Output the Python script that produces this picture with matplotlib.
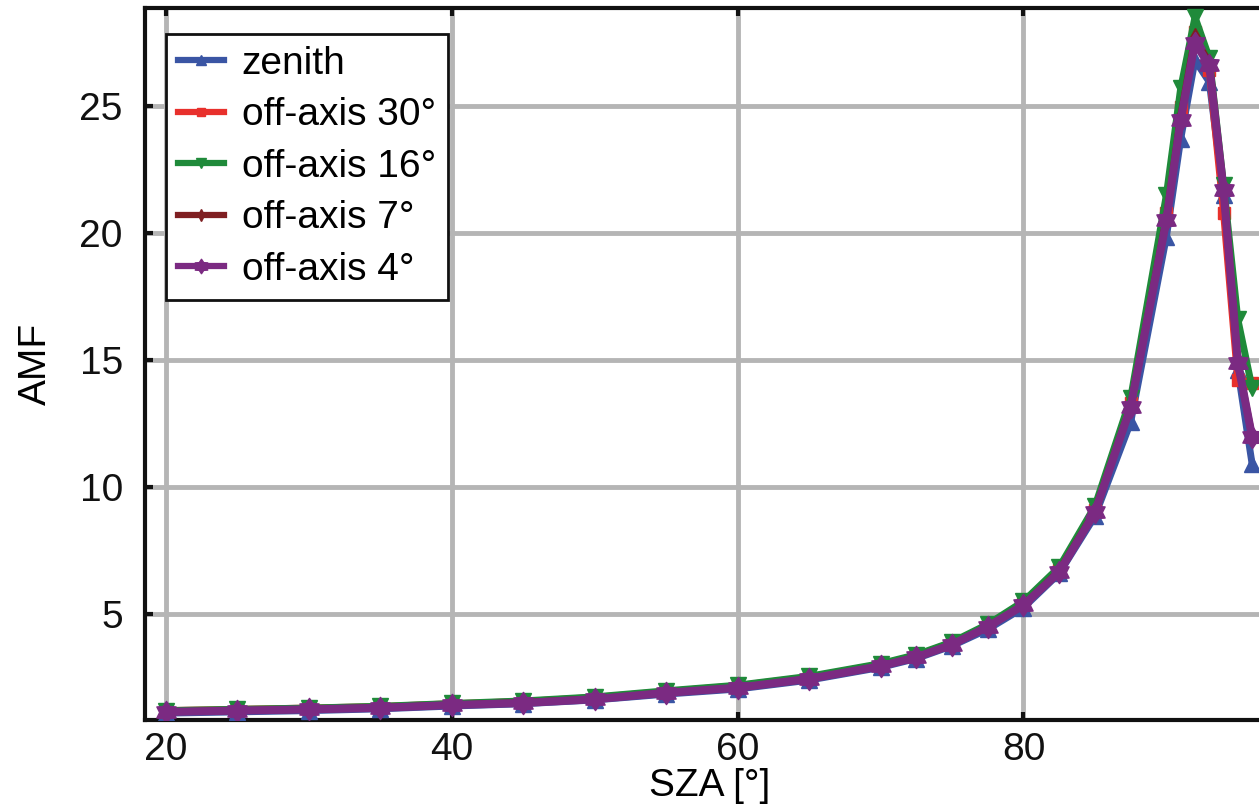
import numpy as np
import matplotlib
matplotlib.use("Agg")
import matplotlib.pyplot as plt
from matplotlib.path import Path

# solar zenith angles [deg]
sza = [20, 25, 30, 35, 40, 45, 50, 55, 60, 65, 70, 72.5, 75, 77.5, 80,
       82.5, 85, 87.5, 90, 91, 92, 93, 94, 95, 96]

# air mass factors for each viewing geometry
amf_zenith = [1.10, 1.15, 1.20, 1.27, 1.38, 1.47, 1.62, 1.85, 2.05, 2.40, 2.90,
              3.25, 3.75, 4.40, 5.25, 6.60, 8.85, 12.55, 19.85, 23.7, 26.8,
              25.95, 21.5, 14.6, 10.9]
amf_off30 = [1.20, 1.25, 1.30, 1.36, 1.47, 1.56, 1.72, 1.95, 2.18, 2.52, 3.02,
             3.37, 3.87, 4.55, 5.40, 6.75, 9.10, 13.3, 20.8, 24.95, 27.9,
             26.4, 20.8, 14.2, 14.1]
amf_off16 = [1.20, 1.25, 1.30, 1.37, 1.48, 1.58, 1.74, 1.98, 2.20, 2.55, 3.05,
             3.40, 3.90, 4.60, 5.50, 6.85, 9.25, 13.5, 21.5, 25.7, 28.5,
             26.9, 21.9, 16.6, 13.9]
amf_off7 = [1.15, 1.20, 1.25, 1.32, 1.42, 1.52, 1.66, 1.90, 2.10, 2.45, 2.95,
            3.30, 3.80, 4.50, 5.35, 6.70, 9.05, 13.2, 20.6, 24.6, 27.7,
            26.7, 21.7, 14.9, 12.0]
amf_off4 = [1.15, 1.20, 1.25, 1.31, 1.42, 1.50, 1.65, 1.90, 2.10, 2.45, 2.95,
            3.30, 3.80, 4.50, 5.35, 6.65, 9.00, 13.15, 20.5, 24.45, 27.5,
            26.6, 21.7, 14.9, 11.97]

labels = ["zenith", "off-axis 30°", "off-axis 16°", "off-axis 7°", "off-axis 4°"]

# hexagram marker (star of David shape)
ang = np.pi/2 + np.arange(12)*np.pi/6
rad = np.where(np.arange(12) % 2 == 0, 1.0, 0.62)
verts = np.c_[rad*np.cos(ang), rad*np.sin(ang)]
hexagram = Path(np.vstack([verts, verts[:1]]), closed=True)

colors = ["#3a55a4", "#e8302c", "#1f8a3a", "#7f1f22", "#7b2a82"]
markers = ["^", "s", "v", "d", hexagram]
msizes = [11, 9, 12, 9, 16]
lwidths = [5, 5, 5, 5, 5.8]
series = [amf_zenith, amf_off30, amf_off16, amf_off7, amf_off4]

plt.rcParams['font.family'] = ['Liberation Sans', 'DejaVu Sans']
plt.rcParams['font.size'] = 28

W, H = 1259, 808
fig = plt.figure(figsize=(W/100, H/100), dpi=100)
# axes runs a little past the right edge of the figure
x0, x1, y0, y1 = 145, 1275, 720, 8
ax = fig.add_axes([x0/W, 1 - y0/H, (x1 - x0)/W, (y0 - y1)/H])

for y, lab, c, m, ms, lw in zip(series, labels, colors, markers, msizes, lwidths):
    ax.plot(sza, y, color=c, marker=m, markersize=ms, linewidth=lw,
            markeredgecolor=c, label=lab, zorder=3)

ax.set_xlim(18.53, 97.6)
ax.set_ylim(0.83, 28.86)
ax.set_xticks([20, 40, 60, 80])
ax.set_yticks([5, 10, 15, 20, 25])

ax.grid(True, color="#b5b5b5", linewidth=3.5, zorder=0)
ax.set_axisbelow(True)
for s in ax.spines.values():
    s.set_linewidth(3)
    s.set_color("#111111")
ax.tick_params(direction="in", length=6, width=3, top=True, right=True,
               labelsize=28, colors="#111111")
ax.tick_params(axis="y", pad=16)
ax.tick_params(axis="x", pad=9)

ax.set_xlabel("SZA [°]", fontsize=28)
ax.xaxis.set_label_coords(0.5, -0.068)
ax.set_ylabel("AMF", fontsize=28)
ax.yaxis.set_label_coords(-0.081, 0.5)

leg = ax.legend(loc="upper left", bbox_to_anchor=(0.0186, 0.9635),
                borderaxespad=0, fancybox=False, framealpha=1,
                edgecolor="#111111", fontsize=28, handlelength=1.2,
                handletextpad=0.45, labelspacing=0.4, borderpad=0.3)
leg.get_frame().set_linewidth(2)
for h in leg.legend_handles:
    h.set_markersize(h.get_markersize() * 0.65)
    h.set_linewidth(4.5)

fig.savefig("out.png", dpi=100)
